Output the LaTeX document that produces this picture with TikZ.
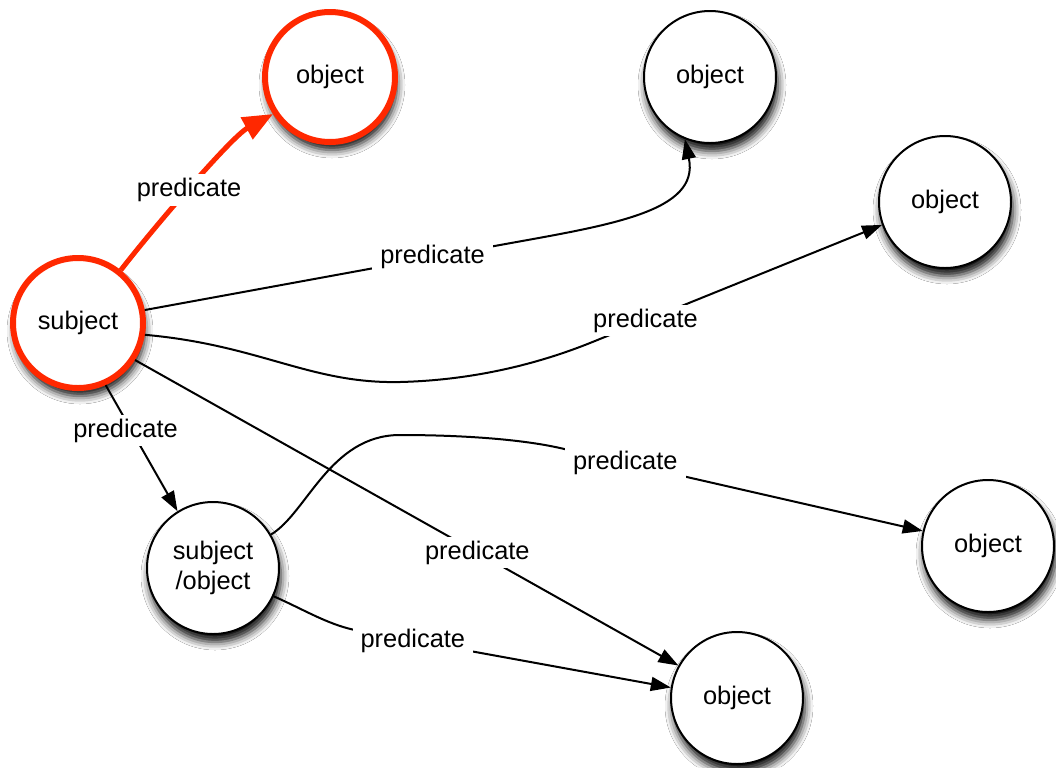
\documentclass[tikz,border=0pt]{standalone}
\usepackage{fontspec}
\setmainfont{Liberation Sans}
\usetikzlibrary{arrows.meta,shadows.blur}
\definecolor{hl}{RGB}{255,40,0}
\begin{document}
\begin{tikzpicture}[x=0.5pt,y=-0.5pt,
  every node/.style={font=\fontsize{12.7pt}{15pt}\selectfont},
  res/.style={circle, draw=black, line width=1pt, fill=white, minimum size=66pt,
    inner sep=0pt, align=center,
    blur shadow={shadow xshift=1pt, shadow yshift=-4pt, shadow blur radius=4pt, shadow opacity=95}},
  reshl/.style={res, draw=hl, line width=3pt, minimum size=65pt},
  lbl/.style={fill=white, inner xsep=4pt, inner ysep=2pt},
  rel/.style={draw=black, line width=1pt, -{Triangle[length=10pt,width=7pt]}},
  relhl/.style={draw=hl, line width=2.5pt, -{Triangle[length=15pt,width=12pt]}}
]
\fill[white] (0,0) rectangle (1056,767);
\useasboundingbox (0,0) rectangle (1056,767);

% resources
\node[reshl] (S)  at (78,323)  {subject};
\node[reshl] (O1) at (330,77)  {object};
\node[res]   (O2) at (710,77)  {object};
\node[res]   (O3) at (945,202) {object};
\node[res]   (O4) at (988,546) {object};
\node[res]   (O5) at (737,698) {object};
\node[res]   (SO) at (213,568) {subject\\/object};

% bend points of the curved statements
\coordinate (b2) at (500,245);
\coordinate (b3a) at (400,382);
\coordinate (b3b) at (590,343);
\coordinate (b6a) at (400,435);
\coordinate (b6b) at (560,448);
\coordinate (b7) at (360,631);

% highlighted statement
\draw[relhl] (S.51) .. controls (151,231) and (231,137) .. (O1.213)
  node[lbl,pos=0.48] {predicate};

% statements from the subject
\draw[rel] (S.11) -- (b2) node[lbl,pos=0.81] {predicate}
  .. controls (610,225) and (700,212) .. (O2.248);
\draw[rel] (S.-10) .. controls (260,345) and (310,384) .. (b3a)
  .. controls (480,380) and (545,361) .. (b3b)
  -- (O3.200) node[lbl,pos=0.19] {predicate};
\draw[rel] (S.-33) -- (O5.151) node[lbl,pos=0.63] {predicate};
\draw[rel] (S.-66) -- (SO.122) node[lbl,pos=0.36,xshift=-3pt] {predicate};

% statements from the subject/object
\draw[rel] (SO.30) .. controls (307,513) and (330,435) .. (b6a)
  .. controls (460,435) and (520,439) .. (b6b)
  -- (O4.167) node[lbl,pos=0.18] {predicate};
\draw[rel] (SO.-25) .. controls (305,610) and (330,626) .. (b7)
  -- (O5.171) node[lbl,pos=0.17] {predicate};
\end{tikzpicture}
\end{document}
